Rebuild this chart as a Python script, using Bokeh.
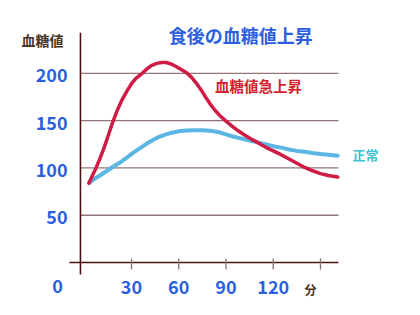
from bokeh.plotting import figure
from bokeh.models import Range1d
from bokeh.core.properties import value
from bokeh.embed import file_html
from bokeh.resources import INLINE

# ---- data ----
red_t = [3, 5.5, 7.5, 10, 12.5, 15, 18, 21, 24, 27, 30, 33, 36.8, 40, 43, 46, 49, 52, 55, 58, 61, 65,
         68, 71, 74, 77, 80, 83, 86, 89.7, 94, 98, 102, 106, 110, 115, 120, 125, 130, 135, 140, 145,
         150, 155, 161]
red_v = [84, 93, 100, 110, 121, 133, 148, 161, 172, 181, 189, 195, 200, 205, 208.5, 210.5, 211.5, 211.5,
         210, 207.5, 204.5, 200.5, 196, 190, 183, 175, 167.5, 161, 155.5, 150, 144, 139, 134.5, 130.5,
         127, 122, 118, 114, 109.5, 105, 100.5, 97, 94, 92, 90.5]
blue_t = [3, 6, 10, 14, 18, 23, 27, 31, 35, 39, 43, 47, 51, 55, 60, 65, 70, 75, 80, 85, 90, 95, 100,
          105, 110, 115, 120, 125, 130, 135, 140, 145, 150, 155, 161]
blue_v = [84, 88, 92, 96.5, 101, 106, 111, 116, 120.5, 125, 129, 132.5, 135, 137, 138.8, 139.5, 139.8,
          139.8, 139.3, 138, 135.5, 133, 131, 129, 127, 125, 123, 121.5, 119.5, 118, 117, 115.8, 114.8,
          114, 113]
y_ticks = [50, 100, 150, 200]
y_tick_labels = ["50", "100", "150", "200"]
x_ticks = [30, 60, 90, 120, 150]
x_tick_labels = ["30", "60", "90", "120", ""]
title_text = "食後の血糖値上昇"
y_title = "血糖値"
x_unit = "分"
red_name = "血糖値急上昇"
blue_name = "正常"

JP = value("Noto Sans CJK JP")
BLUE_TXT = "#2b5fe0"

p = figure(width=420, height=315, output_backend="svg", toolbar_location=None,
           x_range=Range1d(-53.17, 213.5), y_range=Range1d(-56.0, 277.0),
           x_axis_location=None, y_axis_location=None, min_border=0)
p.grid.visible = False
p.outline_line_color = None
p.background_fill_color = "white"

x_axis_pos = -2.4
x_end = 161.4

# gridlines
p.segment(x0=[x_axis_pos] * len(y_ticks), x1=[x_end] * len(y_ticks), y0=y_ticks, y1=y_ticks,
          line_color="#927676", line_width=1.3)
# axes
p.segment(x0=[x_axis_pos], x1=[x_axis_pos], y0=[-12.7], y1=[243.0], line_color="#4a1216", line_width=1.6)
p.segment(x0=[-9.4], x1=[x_end], y0=[0], y1=[0], line_color="#4a1216", line_width=1.6)
# x ticks
p.segment(x0=x_ticks, x1=x_ticks, y0=[4.2] * len(x_ticks), y1=[-7.4] * len(x_ticks),
          line_color="#8a7272", line_width=1.3)

# curves
p.line(blue_t, blue_v, line_color="#5cb6e4", line_width=4, line_cap="round", line_join="round")
p.line(red_t, red_v, line_color="#cf1c44", line_width=3.5, line_cap="round", line_join="round")

# y tick labels
p.text(x=[-10.6] * len(y_ticks), y=[v - 2.1 for v in y_ticks], text=y_tick_labels,
       text_align="right", text_baseline="middle", text_font=JP, text_font_size="18px",
       text_font_style="bold", text_color=BLUE_TXT)
p.text(x=[-17.0], y=[-24.5], text=["0"], text_align="center", text_baseline="middle",
       text_font=JP, text_font_size="18px", text_font_style="bold", text_color=BLUE_TXT)
# x tick labels
p.text(x=x_ticks, y=[-25.8] * len(x_ticks), text=x_tick_labels, text_align="center",
       text_baseline="middle", text_font=JP, text_font_size="18px", text_font_style="bold",
       text_color=BLUE_TXT)
p.text(x=[143.7], y=[-28.0], text=[x_unit], text_align="center", text_baseline="middle",
       text_font=JP, text_font_size="12px", text_font_style="bold", text_color="#4a3424")
# titles
p.text(x=[-26.5], y=[235.7], text=[y_title], text_align="center", text_baseline="middle",
       text_font=JP, text_font_size="14px", text_font_style="bold", text_color="#4a3424")
p.text(x=[99.4], y=[241.0], text=[title_text], text_align="center", text_baseline="middle",
       text_font=JP, text_font_size="18px", text_font_style="bold", text_color=BLUE_TXT)
p.text(x=[110.7], y=[187.1], text=[red_name], text_align="center", text_baseline="middle",
       text_font=JP, text_font_size="14.5px", text_font_style="bold", text_color="#d41e2c")
p.text(x=[178.6], y=[114.2], text=[blue_name], text_align="center", text_baseline="middle",
       text_font=JP, text_font_size="13px", text_font_style="bold", text_color="#3cc2d4")

open("out.html", "w").write(file_html(p, INLINE))
